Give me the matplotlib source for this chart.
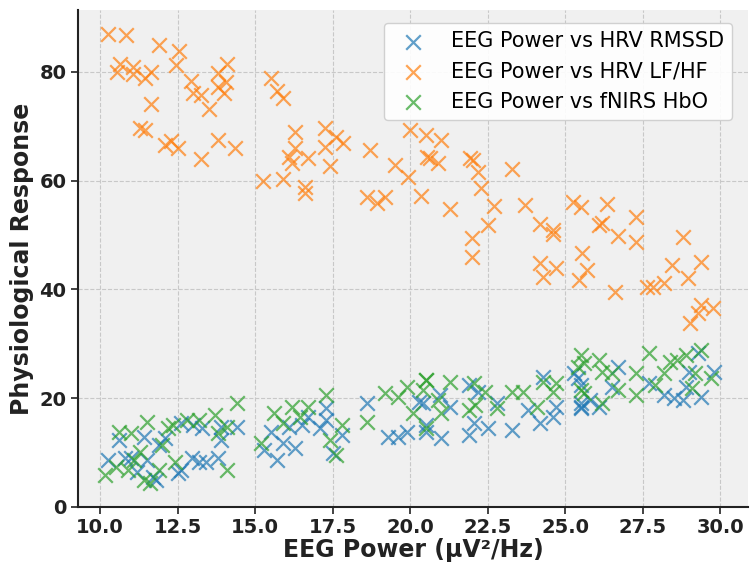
import matplotlib
matplotlib.use("Agg")
import matplotlib.pyplot as plt

# EEG power vs HRV RMSSD
rmssd_x = [10.6, 10.26, 10.8, 11.0, 11.5, 11.2, 11.7, 11.8, 11.4, 11.9, 12.1, 12.5, 12.6,
           12.95, 13.2, 13.4, 13.8, 13.0, 13.3, 13.9, 14.4, 12.6, 13.9,
           15.3, 15.7, 15.5, 15.9, 16.1, 16.3, 16.5, 16.7, 17.1, 17.3, 17.3, 17.5, 17.8,
           18.6, 19.3, 19.6, 19.9, 20.3, 20.5,
           20.4, 20.97, 21.3, 20.5, 21.0, 21.9, 22.2, 22.05, 21.9, 22.5, 22.8, 23.3, 23.8,
           24.2, 24.3, 24.7, 24.6, 25.3, 25.5, 25.5,
           25.4, 25.5, 25.5, 25.8, 26.1, 26.7, 26.5, 27.7, 28.2, 28.5, 28.8, 29.0, 29.3,
           29.4, 29.8, 28.9]
rmssd_y = [12.3, 8.6, 9.0, 9.0, 8.6, 6.4, 5.5, 5.0, 12.9, 11.4, 12.7, 6.2, 6.8,
           9.0, 8.3, 8.3, 9.0, 15.1, 14.5, 14.7, 14.7, 15.4, 12.3,
           10.5, 8.6, 13.8, 11.8, 14.7, 10.8, 15.1, 16.5, 14.5, 18.2, 16.0, 9.9, 13.2,
           19.1, 12.9, 12.9, 13.8, 19.3, 15.1,
           19.1, 20.6, 18.4, 13.8, 12.7, 22.4, 21.1, 15.4, 13.2, 14.5, 19.1, 14.1, 17.8,
           15.4, 23.9, 18.4, 16.5, 24.6, 22.4, 18.4,
           23.7, 19.1, 18.2, 19.7, 18.4, 25.7, 22.1, 22.8, 20.6, 20.0, 19.7, 24.8, 28.3,
           20.2, 24.8, 22.1]

# EEG power vs HRV LF/HF
lfhf_x = [10.26, 10.82, 11.9, 12.55, 10.63, 10.55, 11.06, 11.06, 11.44, 11.64, 12.44,
          11.64, 11.3, 11.44, 12.1, 12.3, 12.5, 13.27, 13.8, 14.35, 12.94, 13.0, 13.27,
          13.5, 13.8, 14.1, 13.8, 14.06, 14.0,
          15.5, 15.7, 15.9, 16.3, 16.3, 16.1, 16.2, 16.7, 17.26, 17.6, 17.84, 17.26, 17.4,
          15.26, 15.9, 16.6, 16.6, 18.7, 19.5, 19.94, 20.0, 20.5, 21.0, 20.54, 20.9, 20.65,
          21.94, 22.04, 22.2, 22.3, 22.7, 22.5, 22.0, 22.0, 18.6, 18.93, 19.2, 20.35, 21.3,
          23.3, 23.7, 24.2, 24.6, 24.6, 24.2, 24.3, 24.7, 25.26, 25.5, 26.35, 26.1, 26.2,
          26.7, 27.3, 27.3, 25.55, 25.7, 25.45, 26.6, 27.64, 27.84, 28.2, 28.44, 28.8,
          28.97, 29.4, 29.03, 29.3, 29.4, 29.78]
lfhf_y = [86.9, 86.8, 85.0, 83.9, 81.4, 80.0, 80.9, 79.6, 78.9, 80.0, 81.2,
          74.1, 69.7, 69.3, 66.5, 67.2, 66.0, 64.0, 67.5, 66.0, 78.4, 76.1, 75.7,
          73.2, 79.8, 81.4, 77.2, 78.2, 76.1,
          78.9, 76.4, 75.2, 69.0, 66.0, 64.4, 63.3, 64.2, 69.7, 68.0, 66.9, 66.2, 62.7,
          59.9, 60.3, 58.9, 57.7, 65.6, 62.9, 60.7, 69.3, 68.4, 67.5, 64.4, 63.2, 64.1,
          64.1, 63.8, 61.6, 58.6, 55.3, 51.8, 49.4, 46.0, 57.0, 55.9, 57.0, 57.2, 54.8,
          62.1, 55.5, 52.0, 50.9, 50.2, 44.9, 42.3, 43.9, 56.0, 55.1, 55.7, 51.8, 52.2,
          49.8, 53.4, 48.8, 46.7, 43.6, 41.7, 39.6, 40.5, 40.5, 41.2, 44.5, 49.6,
          42.1, 45.1, 33.8, 35.7, 37.1, 36.6]

# EEG power vs fNIRS HbO
hbo_x = [14.4, 11.5, 10.6, 11.0, 12.2, 12.35, 12.8, 13.2, 13.7, 13.8, 14.1, 10.16, 10.5,
         10.9, 11.1, 11.3, 11.4, 11.6, 11.9, 12.4, 14.1, 12.0,
         15.2, 15.6, 15.9, 16.2, 16.45, 16.7, 17.3, 17.4, 17.6, 17.8, 18.6, 19.2, 19.6,
         19.9, 20.1, 20.5, 20.4,
         20.5, 21.3, 20.9, 21.0, 20.5, 22.05, 22.4, 21.9, 22.1, 22.8, 23.3, 23.65, 24.1,
         24.3, 24.6, 24.7, 25.4, 25.6,
         25.5, 25.6, 26.1, 26.2, 26.5, 26.7, 27.3, 27.3, 27.7, 27.9, 28.2, 28.4, 28.6,
         28.9, 29.4, 29.2, 29.7, 29.1, 26.2, 25.5]
hbo_y = [19.1, 15.6, 13.8, 13.6, 14.5, 15.1, 16.0, 16.0, 16.9, 13.6, 14.7, 5.9, 7.4,
         6.8, 8.6, 10.1, 5.0, 4.4, 6.8, 8.3, 6.8, 11.4,
         11.8, 17.3, 15.4, 18.4, 16.5, 18.4, 20.6, 12.3, 9.6, 15.1, 15.6, 21.0, 20.2,
         22.1, 17.3, 23.3, 21.5,
         23.3, 23.0, 19.7, 17.3, 14.5, 22.8, 21.1, 17.8, 18.8, 18.2, 21.1, 21.1, 18.4,
         23.0, 21.1, 22.8, 25.7, 21.0,
         27.9, 26.5, 27.0, 24.8, 24.6, 21.5, 24.6, 20.6, 28.3, 22.4, 24.6, 26.7, 27.0,
         27.9, 28.9, 24.6, 23.7, 21.9, 19.1, 21.5]

fig = plt.figure(figsize=(7.51, 5.63), dpi=100)
ax = fig.add_axes([0.104, 0.0995, 0.892, 0.883])
ax.set_facecolor("#f0f0f0")

ax.scatter(rmssd_x, rmssd_y, marker="x", s=110, linewidths=1.6, alpha=0.7,
           color="#1f77b4", label="EEG Power vs HRV RMSSD")
ax.scatter(lfhf_x, lfhf_y, marker="x", s=110, linewidths=1.6, alpha=0.7,
           color="#ff7f0e", label="EEG Power vs HRV LF/HF")
ax.scatter(hbo_x, hbo_y, marker="x", s=110, linewidths=1.6, alpha=0.7,
           color="#2ca02c", label="EEG Power vs fNIRS HbO")

ax.set_xlim(9.29, 30.9)
ax.set_ylim(0, 91.4)
ax.set_xticks([10.0, 12.5, 15.0, 17.5, 20.0, 22.5, 25.0, 27.5, 30.0])
ax.set_yticks([0, 20, 40, 60, 80])
ax.grid(True, linestyle="--", color="#c8c8c8", linewidth=0.8)
ax.set_axisbelow(True)

for side in ["top", "right"]:
    ax.spines[side].set_visible(False)
for side in ["left", "bottom"]:
    ax.spines[side].set_color("#222222")
    ax.spines[side].set_linewidth(1.5)

ax.tick_params(labelsize=14, width=1.2, length=5, colors="#222222")
ax.tick_params(axis="x", pad=3)
for lbl in ax.get_xticklabels() + ax.get_yticklabels():
    lbl.set_fontweight("bold")

ax.set_xlabel("EEG Power (μV²/Hz)", fontsize=17, fontweight="bold", color="#222222",
              labelpad=1)
ax.set_ylabel("Physiological Response", fontsize=17, fontweight="bold", color="#222222")

ax.legend(loc="upper right", fontsize=15, framealpha=0.9,
          bbox_to_anchor=(0.992, 0.995))

fig.savefig("out.png", dpi=100)
